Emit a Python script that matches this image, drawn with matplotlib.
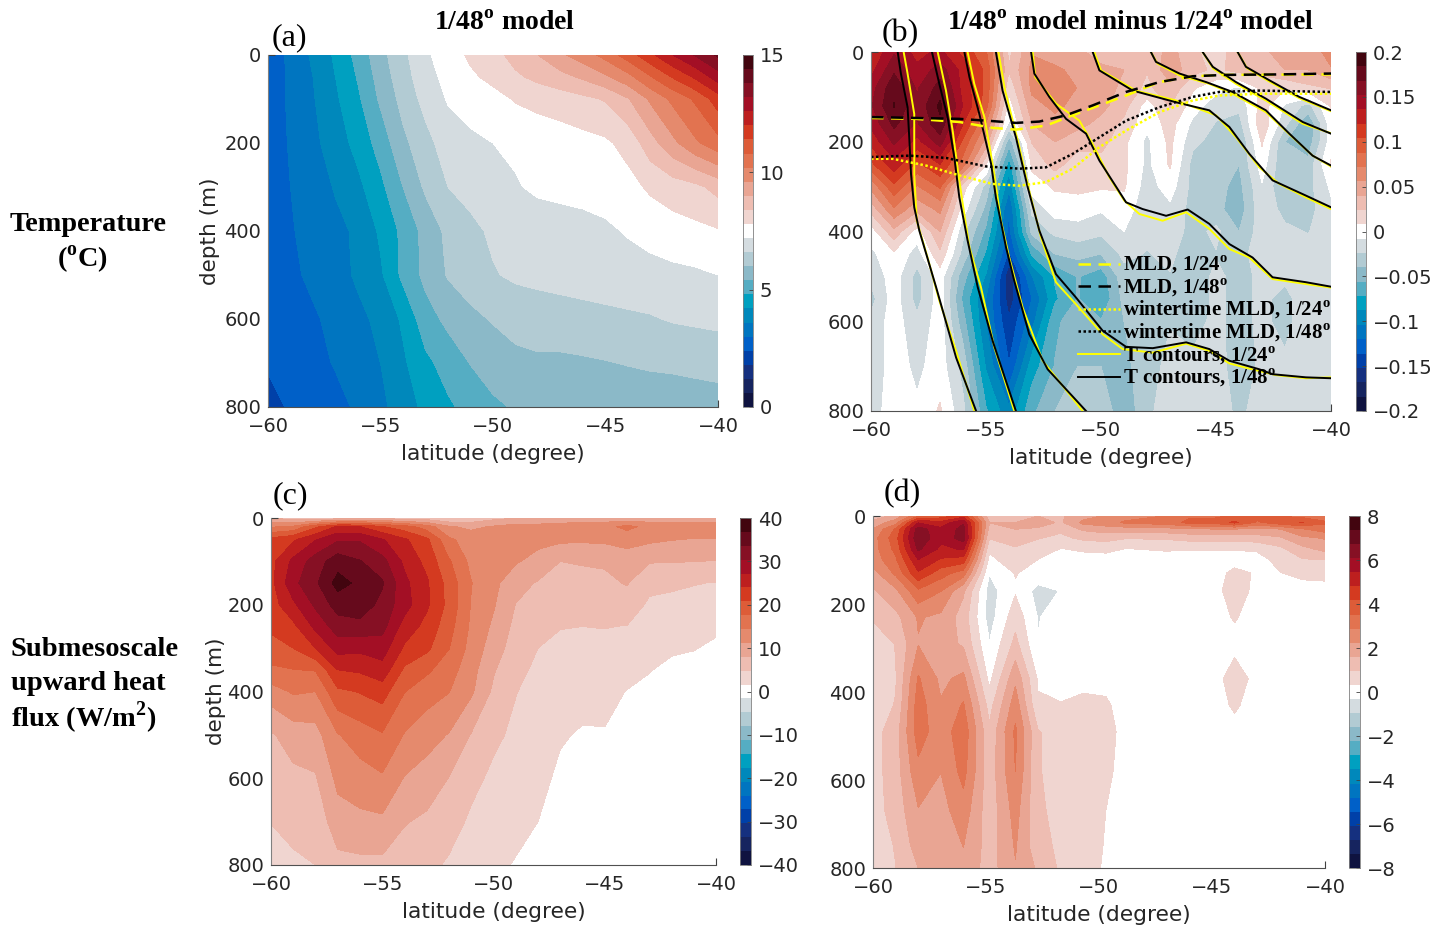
import numpy as np
import matplotlib
matplotlib.use("Agg")
import matplotlib.pyplot as plt

W, H = 1442, 926
SERIF = "Liberation Serif"
plt.rcParams["mathtext.fontset"] = "custom"
plt.rcParams["mathtext.rm"] = SERIF
plt.rcParams["mathtext.bf"] = SERIF + ":bold"
plt.rcParams["font.family"] = "DejaVu Sans"

band_colors = ["#0f1340", "#16245f", "#15307f", "#0040a8", "#0060c8", "#0075c0",
               "#0088bb", "#00a0c0", "#55adc3", "#8bb9c8", "#b2cbd3", "#d4dce0",
               "#ffffff",
               "#f0d5d0", "#eebdb2", "#e9a593", "#e58a6d", "#e27350", "#dd5c38",
               "#d43a20", "#bd1f1f", "#a30f25", "#861024", "#660a1c", "#42050f"]

lat_1deg = np.arange(-60, -39)

# panel (a), one row per depth
temp_depth = [0, 50, 100, 200, 300, 400, 500, 600, 700, 800]
temp_rows = [
    [2.6, 3.15, 3.7, 4.3, 5.0, 5.8, 6.45, 7.1, 7.5, 7.9, 8.2, 8.6, 9.0, 9.5, 9.9, 10.4, 11.1, 11.85, 12.6, 13.25, 13.9],
    [2.6, 3.1, 3.6, 4.2, 4.85, 5.65, 6.35, 6.95, 7.4, 7.7, 7.95, 8.3, 8.55, 8.8, 9.1, 9.5, 10.0, 10.75, 11.45, 12.1, 12.9],
    [2.65, 3.1, 3.55, 4.1, 4.7, 5.5, 6.2, 6.8, 7.25, 7.4, 7.6, 7.85, 8.0, 8.1, 8.25, 8.45, 8.95, 9.7, 10.35, 10.9, 11.7],
    [2.7, 3.05, 3.45, 3.9, 4.4, 5.05, 5.85, 6.4, 6.9, 7.1, 7.2, 7.3, 7.4, 7.5, 7.6, 7.7, 8.0, 8.75, 9.45, 10.1, 10.6],
    [2.7, 3.0, 3.3, 3.65, 4.05, 4.65, 5.4, 6.1, 6.6, 6.8, 7.0, 7.15, 7.3, 7.35, 7.4, 7.45, 7.6, 7.9, 8.1, 8.25, 8.6],
    [2.7, 2.95, 3.2, 3.45, 3.7, 4.3, 4.95, 5.6, 6.15, 6.45, 6.7, 6.8, 6.9, 6.95, 7.0, 7.1, 7.25, 7.4, 7.55, 7.65, 7.75],
    [2.6, 2.85, 3.15, 3.35, 3.7, 4.1, 4.95, 5.55, 6.05, 6.3, 6.55, 6.7, 6.75, 6.8, 6.85, 6.9, 6.95, 7.0, 7.05, 7.1, 7.2],
    [2.5, 2.7, 2.9, 3.2, 3.45, 3.75, 4.3, 5.15, 5.55, 5.85, 6.05, 6.2, 6.3, 6.35, 6.4, 6.45, 6.5, 6.55, 6.65, 6.7, 6.75],
    [2.45, 2.6, 2.8, 3.05, 3.3, 3.6, 4.1, 4.65, 5.05, 5.42, 5.65, 5.85, 5.9, 5.88, 5.92, 5.97, 6.03, 6.08, 6.1, 6.15, 6.2],
    [2.25, 2.45, 2.6, 2.8, 3.1, 3.45, 3.9, 4.35, 4.7, 5.0, 5.3, 5.45, 5.5, 5.5, 5.55, 5.55, 5.6, 5.65, 5.7, 5.72, 5.75],
]

# panel (b), one column per latitude
diff_depth = [0, 40, 80, 120, 160, 200, 250, 300, 350, 400, 450, 500, 550, 600, 700, 800]
diff_cols = [
    [.12, .13, .145, .15, .14, .125, .1, .06, .03, 0, -.012, -.02, -.03, -.02, -.02, -.015],
    [.15, .165, .18, .185, .172, .155, .13, .1, .07, .035, .005, 0, 0, 0, 0, 0],
    [.13, .14, .15, .155, .15, .13, .1, .07, .045, 0, -.015, -.03, -.03, -.02, -.012, -.005],
    [.14, .16, .175, .188, .18, .16, .12, .09, .06, .04, .02, 0, 0, 0, 0, .01],
    [.115, .13, .13, .135, .12, .1, .08, .015, 0, -.02, -.03, -.05, -.06, -.05, -.03, -.02],
    [.09, .1, .1, .095, .07, .05, .01, -.03, -.045, -.06, -.075, -.09, -.105, -.105, -.09, -.07],
    [.02, .025, .012, 0, -.012, -.05, -.08, -.1, -.12, -.125, -.14, -.165, -.16, -.15, -.135, -.1],
    [.055, .06, .06, .05, .04, .025, .012, 0, -.02, -.035, -.07, -.105, -.12, -.11, -.08, -.06],
    [.045, .06, .07, .06, .05, .04, .03, .01, 0, -.02, -.04, -.07, -.075, -.06, -.055, -.04],
    [.045, .05, .055, .05, .045, .03, .015, .012, 0, -.015, -.035, -.055, -.055, -.045, -.04, -.03],
    [.03, .045, .05, .045, .035, .03, .018, .01, -.006, -.02, -.04, -.065, -.07, -.055, -.04, -.03],
    [.028, .04, .035, .03, .02, .012, .012, .01, 0, -.008, -.02, -.03, -.035, -.04, -.045, -.05],
    [.03, .025, .02, 0, -.004, -.012, -.012, -.016, -.018, -.02, -.025, -.03, -.03, -.03, -.03, -.03],
    [.045, .05, .035, .025, .015, .012, .01, 0, -.012, -.015, -.02, -.025, -.025, -.025, -.02, -.01],
    [.03, .03, .01, 0, -.012, -.02, -.03, -.03, -.03, -.03, -.035, -.035, -.035, -.03, -.02, -.015],
    [.01, .02, -.002, -.018, -.025, -.03, -.035, -.035, -.035, -.02, -.025, -.02, -.02, -.02, -.015, -.01],
    [.04, .03, -.01, -.02, -.03, -.04, -.04, -.045, -.05, -.04, -.03, -.03, -.03, -.03, -.035, -.03],
    [.035, .03, .012, .015, .02, .01, 0, -.01, -.012, -.015, -.015, -.02, -.02, -.02, -.02, -.012],
    [.05, .04, .01, -.01, -.02, -.04, -.04, -.04, -.03, -.02, -.02, -.02, -.03, -.03, -.02, -.012],
    [.05, .04, .02, -.03, -.055, -.05, -.035, -.03, -.03, -.025, -.015, -.015, -.012, -.012, -.012, -.012],
    [.06, .055, .025, .01, 0, 0, .01, -.005, -.012, -.012, -.012, -.012, -.012, -.012, -.012, -.012],
]

# panel (c), one column per latitude
flux_depth = [0, 20, 50, 100, 150, 200, 250, 300, 350, 400, 500, 600, 700, 800]
flux_cols = [
    [8, 14, 22, 23, 23, 22.5, 21.5, 19.5, 17, 13, 7.6, 6.2, 4.9, 3],
    [6, 15, 23.5, 28, 29.5, 26.5, 23.2, 20.8, 17.5, 14.8, 9.5, 7.2, 5.8, 4.2],
    [6, 20, 27, 32, 33, 31, 28, 24, 17.8, 14.4, 10, 7.7, 5.9, 4.8],
    [6, 24.5, 30, 35.5, 38, 35, 32, 28.5, 24, 20.2, 14.2, 12, 9.8, 7],
    [7, 24, 30, 33.8, 36, 35.6, 32.5, 28, 24.5, 21, 16, 13, 10.4, 7.2],
    [7, 21, 27.5, 31.5, 34, 32.5, 31.5, 28.7, 26, 22.2, 17.3, 14, 10.6, 7.2],
    [6, 19, 24.5, 26.5, 28, 28.5, 25.8, 23.5, 20.2, 17.7, 14.2, 11, 8.2, 6.4],
    [6, 16, 21.5, 23, 24.5, 24.5, 23, 21.5, 18.2, 15.8, 12.5, 9.8, 7.4, 5.6],
    [5, 11.5, 15, 18, 19.5, 19.8, 18.8, 17.7, 15.8, 14.5, 11, 7.9, 6, 4.4],
    [5.5, 10.5, 13, 13.5, 14.5, 14.2, 13.8, 13.2, 12.4, 11.7, 7.8, 5.6, 4.3, 2.8],
    [7, 11.5, 12.5, 12.5, 12, 11.5, 10.6, 9.6, 8.3, 7.4, 5.4, 4.2, 3.2, 2.2],
    [8, 12.5, 12, 11.5, 9.2, 7.9, 7.1, 6.4, 5.6, 4.9, 4.2, 3.3, 2.4, 1.4],
    [8, 12.5, 12, 10.2, 7.7, 6.8, 6, 4.8, 4.2, 3.8, 3.1, 2.5, 1.6, .8],
    [8.5, 13, 11.8, 8, 7, 6, 4.9, 4.2, 3.6, 3, 1.9, 1, .5, 0],
    [9, 13.2, 11.7, 8.2, 7.2, 5.9, 4.8, 4.2, 3.4, 2.6, 1.3, .6, .2, 0],
    [9, 13.5, 11.8, 8.4, 7.3, 6.3, 4.9, 4, 3.2, 2.5, 1.4, .7, .2, 0],
    [9, 15.2, 12.4, 9.5, 8.2, 6.5, 4.7, 3.8, 2.6, 1.5, .6, .2, 0, 0],
    [9, 13.5, 11.8, 8.2, 5.6, 4.3, 3.4, 2.6, 1.7, 1.1, .3, 0, 0, 0],
    [9, 13.5, 11.3, 8.2, 5.2, 4.2, 3.4, 1.9, 1.1, .7, .2, 0, 0, 0],
    [9, 13, 11, 8, 4.9, 4.1, 3.2, 1.7, .9, .5, .1, 0, 0, 0],
    [9, 13, 11, 7.9, 4.7, 3.5, 2, 1.2, .7, .4, .1, 0, 0, 0],
]

# panel (d), one column per latitude
dflux_lat = [-60, -59, -58, -57, -56, -54.85, -53.7, -52.7, -51.7, -50.7, -49.7,
             -48.8, -47, -46, -45, -44, -43, -42, -41, -40]
dflux_depth = [0, 15, 30, 50, 75, 100, 130, 170, 230, 290, 370, 430, 490, 580, 670, 750, 800]
dflux_cols = [
    [1.2, 1.8, 2.3, 2.6, 2.6, 2.5, 2, 1.5, 1.1, .3, .5, .6, .7, .7, .7, .6, .5],
    [1.8, 2.6, 3.6, 3.9, 3.7, 3.4, 3, 2.1, 1.4, 1, .9, 1, 1.3, 1.3, 1.2, 1, .95],
    [3.5, 5.4, 6.4, 6.6, 6.2, 5.4, 4.7, 3.4, 2.3, 2.2, 2.95, 3.2, 3.2, 2.7, 2.2, 1.9, 1.6],
    [3.8, 5, 5.6, 5.6, 5.3, 4.7, 3.8, 2.9, 2.1, 1.9, 2.1, 2.3, 2.5, 2.25, 2, 1.9, 1.7],
    [4.5, 6, 6.3, 6.4, 5.5, 4.5, 3.2, 1.7, 1.3, 1.5, 2.4, 2.95, 3.3, 3.1, 2.6, 2.25, 2.1],
    [1.2, 1.6, 1.4, 1, .45, .1, -.3, -.6, -.6, -.3, .15, .7, 1.1, 1.2, 1.2, 1.3, 1.3],
    [1.3, 1.6, 1.6, 1.2, .9, .8, .35, .25, .7, 1.15, 2.1, 2.6, 3, 2.88, 2.5, 2.3, 2.2],
    [1.6, 1.9, 1.5, 1, .6, .3, .1, -.55, -.35, -.3, .25, .4, 1, 1, 1.05, 1.15, 1.5],
    [1.5, 1.5, 1.1, .8, .3, 0, 0, -.3, -.1, 0, .1, .35, .7, .75, .8, .85, .85],
    [2, 2.4, 1.7, 1.1, .4, .1, 0, 0, 0, 0, .1, .5, .7, .7, .65, .6, .55],
    [2.3, 2.6, 1.9, 1.2, .45, .1, 0, 0, 0, 0, .1, .43, .65, .5, .32, .28, .25],
    [2.6, 3, 1.9, 1, .3, .1, 0, 0, 0, 0, 0, 0, 0, 0, 0, 0, 0],
    [2.9, 3.2, 2, 1.05, .4, 0, 0, 0, 0, 0, 0, 0, 0, 0, 0, 0, 0],
    [3.4, 3.7, 2.1, 1.2, .35, .05, 0, 0, 0, 0, 0, 0, 0, 0, 0, 0, 0],
    [3.4, 3.7, 2.2, 1.2, .35, .05, 0, 0, 0, 0, 0, 0, 0, 0, 0, 0, 0],
    [3.6, 4.3, 2.2, 1.2, .35, .05, .5, .7, .38, .1, .65, .42, .1, 0, 0, 0, 0],
    [3.8, 3.4, 2.1, 1.3, .4, .1, .25, .1, 0, 0, .1, 0, 0, 0, 0, 0, 0],
    [3.5, 3.9, 2.2, 1.5, .8, .5, .3, 0, 0, 0, 0, 0, 0, 0, 0, 0, 0],
    [3.3, 4.2, 2.8, 2.1, 1.4, .9, .45, .1, 0, 0, 0, 0, 0, 0, 0, 0, 0],
    [3.2, 3.6, 3.2, 2.3, 1.8, .95, .5, .1, 0, 0, 0, 0, 0, 0, 0, 0, 0],
]

# T contours in panel (b): (lat, depth) lists
t48 = [
    ([-58.84, -58.70, -58.41, -58.33, -58.26, -58.12, -57.90, -57.17, -56.30, -55.43],
     [0, 48, 123, 197, 272, 346, 398, 524, 681, 800]),
    ([-57.35, -57.03, -56.67, -56.38, -56.16, -55.80, -55.36, -54.71, -53.70],
     [0, 71, 145, 234, 324, 420, 524, 644, 800]),
    ([-55.94, -55.72, -55.29, -54.78, -54.57, -54.13, -53.77, -53.12, -52.32, -50.65],
     [0, 56, 138, 249, 324, 435, 510, 629, 707, 800]),
    ([-54.57, -54.28, -53.70, -53.19, -52.68, -51.96, -51.09, -49.93, -48.91, -47.75, -46.30, -45.29, -44.42, -43.12, -42.54, -41.09, -40],
     [0, 86, 190, 301, 398, 495, 547, 621, 657, 660, 647, 662, 688, 707, 718, 725, 727]),
    ([-53.04, -52.90, -52.25, -51.52, -50.65, -50.07, -48.91, -48.19, -47.17, -46.23, -45.29, -44.42, -43.41, -42.54, -41.09, -40],
     [0, 48, 100, 149, 182, 242, 335, 350, 365, 351, 383, 428, 458, 502, 513, 523]),
    ([-50.36, -50.07, -48.62, -46.74, -45.29, -44.42, -43.55, -42.54, -41.09, -40],
     [0, 41, 86, 112, 130, 167, 227, 286, 320, 346]),
    ([-47.83, -47.61, -46.59, -45.43, -44.28, -42.83, -41.81, -40.80, -40],
     [0, 22, 48, 67, 89, 130, 182, 231, 253]),
    ([-45.58, -45.14, -44.13, -42.83, -41.23, -40], [0, 33, 67, 104, 156, 182]),
    ([-44.06, -43.70, -42.68, -41.38, -40], [0, 33, 63, 100, 130]),
]
t24 = [
    ([-58.58, -58.41, -58.12, -58.12, -58.01, -57.54, -57.03, -56.30, -55.51],
     [0, 48, 138, 272, 376, 458, 554, 666, 800]),
    ([-57.10, -56.74, -56.45, -56.20, -56.01, -55.72, -55.22, -54.64, -53.77],
     [0, 86, 175, 272, 339, 435, 524, 658, 800]),
    ([-55.80, -55.51, -55.07, -54.64, -54.35, -53.99, -53.41, -52.54, -50.80],
     [0, 71, 145, 272, 376, 458, 569, 688, 800]),
    ([-54.46, -54.17, -53.58, -53.12, -52.61, -51.96, -51.09, -49.93, -49.06, -47.75, -46.30, -45.29, -44.42, -43.12, -42.39, -41.09, -40],
     [0, 86, 205, 309, 413, 513, 562, 629, 662, 670, 650, 666, 694, 711, 720, 727, 725]),
    ([-52.97, -52.86, -51.96, -50.94, -50.36, -49.64, -48.99, -48.33, -47.32, -46.30, -45.29, -44.42, -43.55, -42.54, -41.09, -40],
     [0, 56, 115, 153, 205, 279, 331, 361, 376, 357, 394, 439, 458, 506, 517, 525]),
    ([-50.29, -50, -48.48, -46.74, -45, -44.13, -43.12, -42.25, -41.09, -40],
     [0, 41, 86, 108, 141, 190, 257, 294, 324, 350]),
    ([-47.83, -47.54, -46.59, -45.29, -44.28, -42.83, -41.67, -40.80, -40],
     [0, 26, 52, 71, 93, 134, 190, 231, 255]),
    ([-45.58, -45.12, -44.13, -42.83, -41.23, -40], [0, 37, 71, 108, 160, 181]),
    ([-44.06, -43.65, -42.68, -41.38, -40], [0, 36, 66, 103, 132]),
]

mld48_lat = [-60, -58.04, -56.16, -54.71, -53.70, -52.68, -51.52, -50.36, -48.91, -47.46, -46.01, -44.57, -42.39, -40]
mld48 = [145, 147, 149, 154, 158, 155, 141, 119, 89, 67, 54, 51, 50, 48]
mld24_lat = [-60, -58.04, -56.16, -54.71, -53.70, -52.39, -51.23, -50.07, -48.91, -47.46, -46.01, -44.57, -40]
mld24 = [147, 149, 156, 169, 173, 164, 141, 119, 97, 67, 54, 51, 50]
wmld48_lat = [-60, -58.33, -56.74, -55, -53.55, -52.39, -51.23, -50.07, -48.91, -47.46, -46.01, -44.86, -43.12, -40]
wmld48 = [234, 231, 236, 255, 260, 257, 227, 190, 153, 123, 100, 89, 86, 89]
wmld24_lat = [-60, -59.06, -57.61, -56.16, -54.71, -53.55, -52.39, -51.23, -50.07, -48.91, -47.46, -46.01, -44.86, -43.12, -40]
wmld24 = [238, 238, 253, 275, 294, 298, 290, 260, 212, 175, 134, 108, 97, 93, 93]

cb_ticks_a = [0, 5, 10, 15]
cb_ticks_b = [-0.2, -0.15, -0.1, -0.05, 0, 0.05, 0.1, 0.15, 0.2]
cb_labels_b = ["\u22120.2", "\u22120.15", "\u22120.1", "\u22120.05", "0", "0.05", "0.1", "0.15", "0.2"]
cb_ticks_c = [-40, -30, -20, -10, 0, 10, 20, 30, 40]
cb_ticks_d = [-8, -6, -4, -2, 0, 2, 4, 6, 8]

fig = plt.figure(figsize=(W / 100, H / 100), dpi=100)


def px_axes(x0, y0, x1, y1):
    return fig.add_axes([x0 / W, 1 - y1 / H, (x1 - x0) / W, (y1 - y0) / H])


def panel(box, cbox, lat, depth, values, vmin, vmax, ticks, labels=None, ylabel=None):
    ax = px_axes(*box)
    levels = np.linspace(vmin, vmax, 26)
    cf = ax.contourf(lat, depth, values, levels=levels, colors=band_colors)
    ax.set_xlim(-60, -40)
    ax.set_ylim(800, 0)
    ax.set_xticks([-60, -55, -50, -45, -40])
    ax.set_yticks([0, 200, 400, 600, 800])
    ax.tick_params(direction="in", length=5, width=0.8, color="#404040",
                   labelsize=14, labelcolor="#262626", pad=5)
    ax.tick_params(axis="x", pad=7)
    for t in ax.xaxis.get_major_ticks()[:-1]:
        t.tick1line.set_visible(False)
    for t in ax.yaxis.get_major_ticks()[1:]:
        t.tick1line.set_visible(False)
    ax.spines["top"].set_visible(False)
    ax.spines["right"].set_visible(False)
    ax.spines["left"].set_color("#808080")
    ax.spines["bottom"].set_color("#505050")
    ax.set_xlabel("latitude (degree)", fontsize=15.7, color="#262626", labelpad=6)
    if ylabel:
        ax.set_ylabel(ylabel, fontsize=15.5, color="#262626", labelpad=3)

    cax = px_axes(*cbox)
    cb = fig.colorbar(cf, cax=cax, ticks=ticks)
    if labels:
        cb.set_ticklabels(labels)
    cb.ax.tick_params(direction="in", length=3, width=0.6, color="#404040",
                      labelsize=14, labelcolor="#262626", pad=5)
    cb.outline.set_edgecolor("#808080")
    cb.outline.set_linewidth(0.6)
    return ax


def px_text(x, y, s, size, weight="normal", ha="left"):
    fig.text(x / W, 1 - y / H, s, fontsize=size, family=SERIF, weight=weight,
             ha=ha, va="center", color="black")


ax_a = panel((268, 55, 718, 407), (743, 55, 753, 407), lat_1deg, temp_depth,
             np.array(temp_rows), 0, 15, cb_ticks_a, ylabel="depth (m)")
ax_b = panel((871, 52, 1331, 411), (1356, 52, 1366, 411), lat_1deg, diff_depth,
             np.array(diff_cols).T, -0.2, 0.2, cb_ticks_b, cb_labels_b)
ax_c = panel((271, 518, 716, 865), (740, 518, 751, 865), lat_1deg, flux_depth,
             np.array(flux_cols).T, -40, 40, cb_ticks_c, ylabel="depth (m)")
ax_d = panel((873, 516, 1325, 868), (1349, 516, 1360, 868), dflux_lat, dflux_depth,
             np.array(dflux_cols).T, -8, 8, cb_ticks_d)
ax_c.yaxis.labelpad = 1

# lines in panel (b), yellow first so black sits on top
for lat, dep in t24:
    ax_b.plot(lat, dep, color="#ffff00", lw=1.4)
for lat, dep in t48:
    ax_b.plot(lat, dep, color="black", lw=1.4)
ax_b.plot(mld24_lat, mld24, color="#ffff00", lw=1.8, dashes=(5, 3))
ax_b.plot(mld48_lat, mld48, color="black", lw=1.8, dashes=(5, 3))
ax_b.plot(wmld24_lat, wmld24, color="#ffff00", lw=1.8, dashes=(1, 1))
ax_b.plot(wmld48_lat, wmld48, color="black", lw=1.8, dashes=(1, 1))

sup = r"$^{\mathbf{o}}$"
handles = [
    plt.Line2D([], [], color="#ffff00", lw=1.8, dashes=(5, 3)),
    plt.Line2D([], [], color="black", lw=1.8, dashes=(5, 3)),
    plt.Line2D([], [], color="#ffff00", lw=1.8, dashes=(1, 1)),
    plt.Line2D([], [], color="black", lw=1.8, dashes=(1, 1)),
    plt.Line2D([], [], color="#ffff00", lw=1.4),
    plt.Line2D([], [], color="black", lw=1.4),
]
names = ["MLD, 1/24" + sup, "MLD, 1/48" + sup, "wintertime MLD, 1/24" + sup,
         "wintertime MLD, 1/48" + sup, "T contours, 1/24" + sup, "T contours, 1/48" + sup]
ax_b.legend(handles, names, loc="upper left", bbox_to_anchor=(1078 / W, 1 - 254 / H),
            bbox_transform=fig.transFigure, frameon=False, borderpad=0, borderaxespad=0,
            handlelength=2.0, handletextpad=0.15, labelspacing=0.02,
            prop={"family": SERIF, "weight": "bold", "size": 15})

px_text(505, 23, "1/48" + sup + " model", 20, "bold", "center")
px_text(1130, 23, "1/48" + sup + " model minus 1/24" + sup + " model", 20, "bold", "center")
px_text(272, 38, "(a)", 23)
px_text(882, 34, "(b)", 23)
px_text(273, 496, "(c)", 23)
px_text(884, 494, "(d)", 23)
px_text(10, 225, "Temperature", 20.3, "bold")
px_text(82, 259, "(" + sup + "C)", 20.3, "bold", "center")
px_text(11, 649, "Submesoscale", 20.5, "bold")
px_text(11, 683, "upward heat", 20.5, "bold")
px_text(11, 718, "flux (W/m" + r"$^{\mathbf{2}}$" + ")", 20.5, "bold")

fig.savefig("out.png", dpi=100)
